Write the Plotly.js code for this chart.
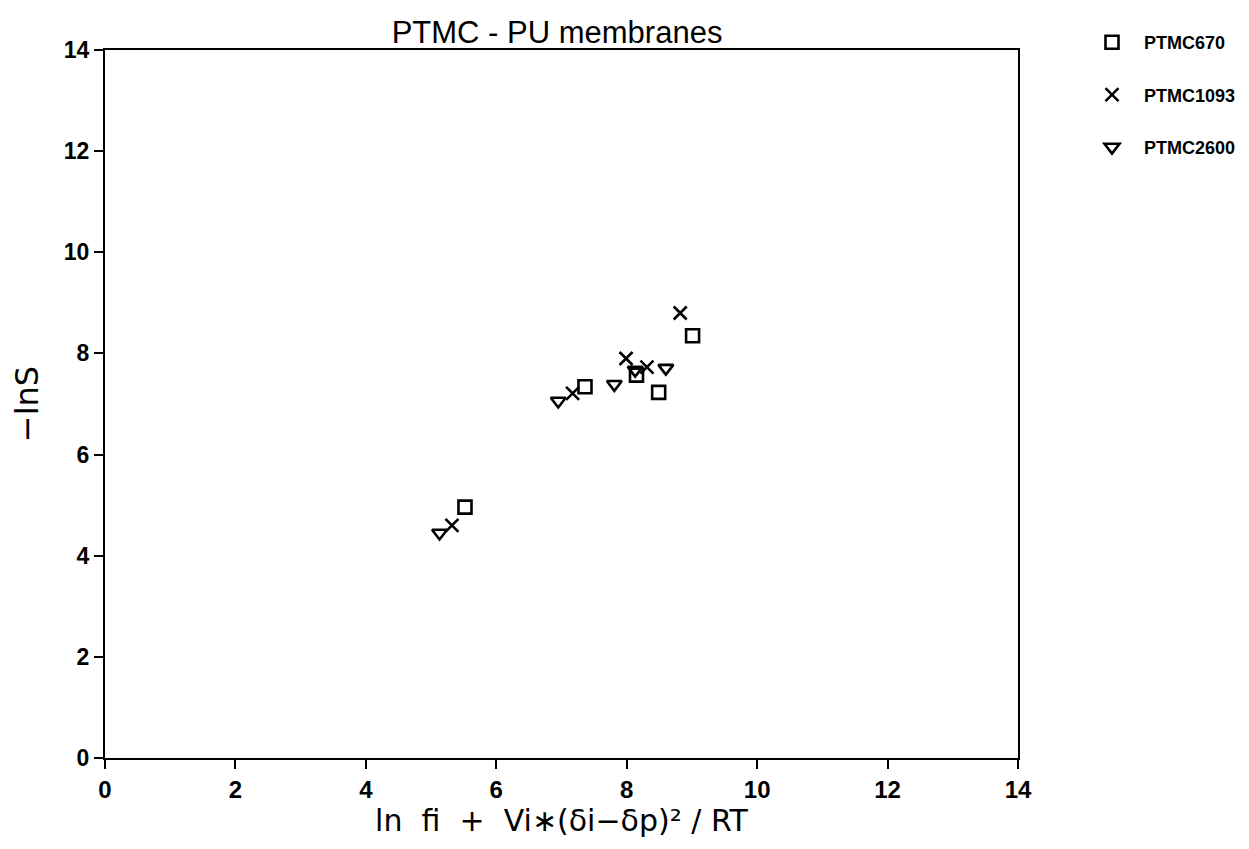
<!DOCTYPE html>
<html>
<head>
<meta charset="utf-8">
<script src="https://cdn.plot.ly/plotly-3.0.1.min.js"></script>
<style>html,body{margin:0;padding:0;background:#fff;}#chart{width:1249px;height:849px;}</style>
</head>
<body>
<div id="chart"></div>
<script>
const seriesNames = ["PTMC670", "PTMC1093", "PTMC2600"];
const ptmc670X = [5.52, 7.36, 8.15, 8.49, 9.01];
const ptmc670Y = [4.96, 7.34, 7.57, 7.23, 8.35];
const ptmc1093X = [5.32, 7.17, 7.99, 8.31, 8.82];
const ptmc1093Y = [4.60, 7.21, 7.90, 7.73, 8.80];
const ptmc2600X = [5.13, 6.95, 7.81, 8.13, 8.60];
const ptmc2600Y = [4.45, 7.06, 7.39, 7.67, 7.71];
const tickVals = [0, 2, 4, 6, 8, 10, 12, 14];

const symbols = ["square-open", "x-thin-open", "triangle-down-open"];
const xs = [ptmc670X, ptmc1093X, ptmc2600X];
const ys = [ptmc670Y, ptmc1093Y, ptmc2600Y];

const traces = seriesNames.map((n, i) => ({
  type: "scatter", mode: "markers", name: n, x: xs[i], y: ys[i],
  legendgroup: n,
  marker: {symbol: symbols[i], size: 13, color: "#000", line: {color: "#000", width: 2.6}}
}));

const font = "Liberation Sans, Arial, sans-serif";
const layout = {
  width: 1249, height: 849,
  margin: {l: 105, r: 231, t: 50, b: 91},
  paper_bgcolor: "#fff", plot_bgcolor: "#fff",
  showlegend: true,
  title: {text: "PTMC - PU membranes", x: 0.446, xanchor: "center", y: 0.962, yanchor: "middle",
          font: {family: font, size: 31, color: "#000"}},
  xaxis: {range: [0, 14], tickvals: tickVals, ticktext: tickVals.map(String),
          showgrid: false, zeroline: false, showline: true, mirror: true, linecolor: "#000", linewidth: 2,
          ticks: "outside", ticklen: 9, tickwidth: 2, tickcolor: "#000",
          tickfont: {family: font, size: 24, weight: "bold", color: "#000"},
          title: {text: "ln  fi  +  Vi∗(δi−δp)² / RT", standoff: 8, font: {family: "DejaVu Sans, sans-serif", size: 30, color: "#000"}}},
  yaxis: {range: [0, 14], tickvals: tickVals, ticktext: tickVals.map(String),
          showgrid: false, zeroline: false, showline: true, mirror: true, linecolor: "#000", linewidth: 2,
          ticks: "outside", ticklen: 9, tickwidth: 2, tickcolor: "#000",
          tickfont: {family: font, size: 23, weight: "bold", color: "#000"},
          title: {text: "−lnS", standoff: 16, font: {family: "DejaVu Sans, sans-serif", size: 32, color: "#000"}}},
  legend: {xref: "container", x: 1080 / 1249, xanchor: "left", yref: "container", y: 1 - 24 / 849, yanchor: "top",
           traceorder: "grouped", tracegroupgap: 26, itemwidth: 54,
           font: {family: font, size: 18, weight: "bold", color: "#000"}, bgcolor: "rgba(0,0,0,0)"}
};
Plotly.newPlot("chart", traces, layout, {displayModeBar: false, staticPlot: true});
</script>
</body>
</html>
